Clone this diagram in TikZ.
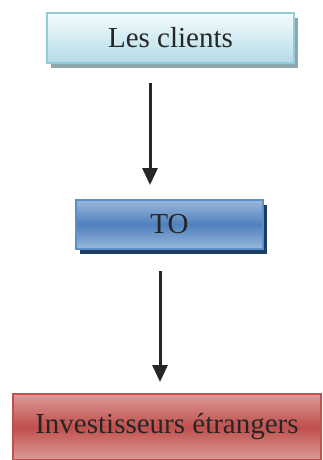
\documentclass[tikz,border=0pt]{standalone}
\usepackage{fontspec}
\setmainfont{Liberation Serif}
\usetikzlibrary{arrows.meta,shadows}
\definecolor{cliline}{HTML}{92CDDC}
\definecolor{clitop}{HTML}{F4FBFD}
\definecolor{clibot}{HTML}{B4DCE7}
\definecolor{clishad}{HTML}{8DA6AC}
\definecolor{toline}{HTML}{5B8FCB}
\definecolor{tolight}{HTML}{9AB7DA}
\definecolor{tomid}{HTML}{4F81BD}
\definecolor{toshad}{HTML}{1F3C64}
\definecolor{invline}{HTML}{C0504D}
\definecolor{invlight}{HTML}{DC9A98}
\definecolor{invmid}{HTML}{C0504D}
\tikzset{
  orgbox/.style={rectangle, line width=2pt, inner sep=0pt, text=black!85,
    font=\fontsize{29}{34}\selectfont},
  orgarr/.style={-{Triangle[width=15pt,length=17pt]}, line width=3pt, black!85}
}

\begin{document}
\begin{tikzpicture}[x=1pt, y=-1pt]
  \useasboundingbox (0,0) rectangle (323,460);
  \node[orgbox, draw=cliline, top color=clitop, bottom color=clibot,
        minimum width=247pt, minimum height=50pt,
        drop shadow={shadow xshift=4pt, shadow yshift=-5pt, fill=clishad, opacity=1}]
        (clients) at (170.5,38) {Les clients};
  \node[orgbox, draw=toline, top color=tolight, bottom color=tolight, middle color=tomid,
        minimum width=187pt, minimum height=49pt,
        drop shadow={shadow xshift=4pt, shadow yshift=-5pt, fill=toshad, opacity=1}]
        (to) at (169.5,224.5) {TO};
  \node[orgbox, draw=invline, top color=invlight, bottom color=invlight, middle color=invmid,
        minimum width=308pt, minimum height=66pt]
        (inv) at (167,427) {Investisseurs étrangers};
  \draw[orgarr] ([xshift=-20.5pt, yshift=-19pt]clients.south) -- ([xshift=-19.5pt, yshift=14pt]to.north);
  \draw[orgarr] ([xshift=-9.5pt, yshift=-21pt]to.south) -- ([xshift=-7pt, yshift=11pt]inv.north);
\end{tikzpicture}
\end{document}
